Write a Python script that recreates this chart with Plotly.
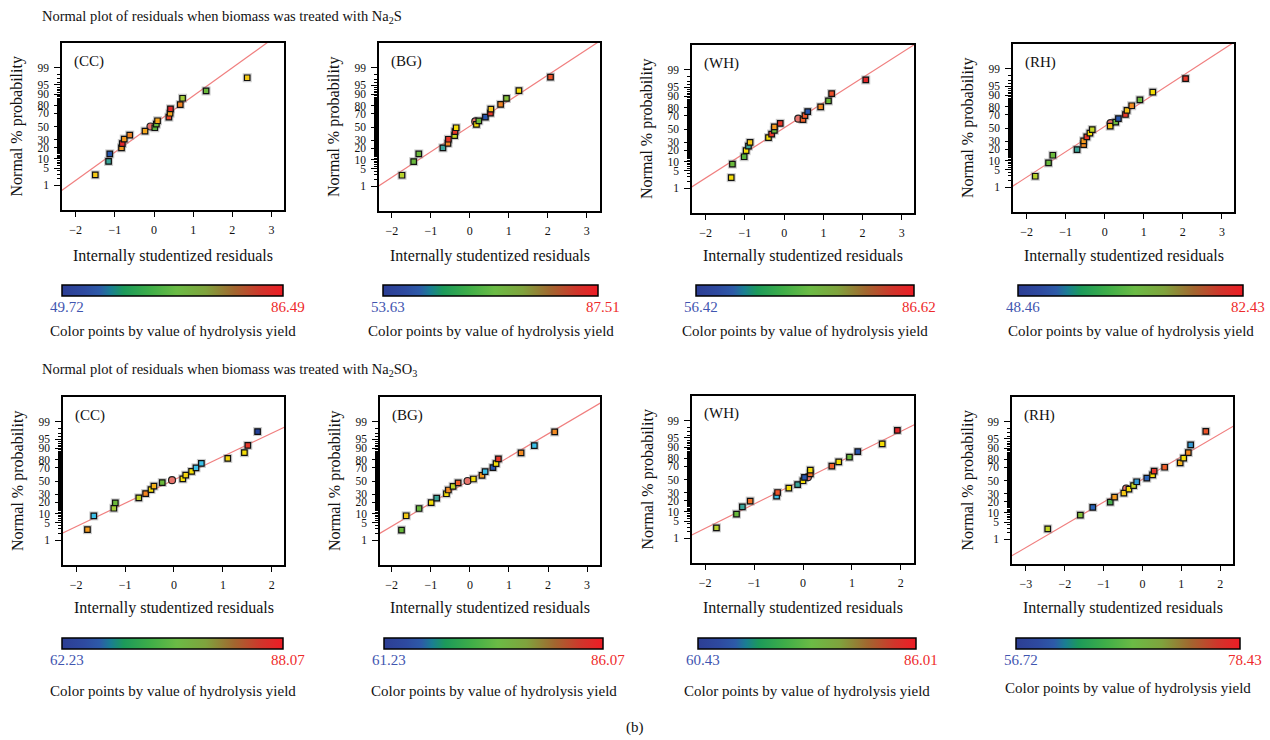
import plotly.graph_objects as go
from statistics import NormalDist

W, H = 1270, 740
FONT = "Liberation Serif"

# ---------------- data ----------------
prob_ticks = [1, 5, 10, 20, 30, 50, 70, 80, 90, 95, 99]
prob_minor = [p for p in range(1, 100) if p not in prob_ticks]
panel_names = ["(CC)", "(BG)", "(WH)", "(RH)", "(CC)", "(BG)", "(WH)", "(RH)"]
row_titles = ["Normal plot of residuals when biomass was treated with Na<sub>2</sub>S",
              "Normal plot of residuals when biomass was treated with Na<sub>2</sub>SO<sub>3</sub>"]
x_title = "Internally studentized residuals"
y_title = "Normal % probability"
cb_title = "Color points by value of hydrolysis yield"

# Na2S row
r1_cc_resid = [-1.50, -1.16, -1.13, -0.83, -0.81, -0.76, -0.62, -0.23, -0.09, 0.02, 0.06, 0.09, 0.38, 0.41, 0.42, 0.67, 0.73, 1.33, 2.38]
r1_cc_prob = [2.8, 8.4, 14.0, 20.0, 25.0, 31.0, 36.7, 42.8, 50.0, 48.0, 53.7, 59.0, 64.4, 70.0, 75.7, 80.7, 86.8, 92.0, 97.3]
r1_cc_yield = [76.9, 60.8, 51.6, 79.9, 86.5, 79.9, 81.0, 79.1, 84.6, 65.2, 66.3, 79.1, 84.6, 79.1, 86.5, 81.0, 69.9, 66.3, 76.9]

r1_bg_resid = [-1.74, -1.44, -1.31, -0.69, -0.56, -0.55, -0.39, -0.38, -0.35, 0.17, 0.14, 0.23, 0.40, 0.53, 0.54, 0.79, 0.94, 1.26, 2.07]
r1_bg_prob = [2.9, 8.7, 14.5, 20.6, 26.1, 31.5, 36.8, 42.9, 48.8, 54.0, 58.6, 59.6, 65.0, 70.8, 75.9, 81.3, 86.9, 92.3, 97.5]
r1_bg_yield = [73.3, 68.9, 68.9, 63.8, 82.4, 86.5, 74.0, 86.5, 77.4, 77.4, 85.0, 68.9, 55.3, 86.5, 79.0, 82.4, 70.6, 77.4, 84.8]

r1_wh_resid = [-1.35, -1.32, -1.02, -0.97, -0.91, -0.87, -0.40, -0.32, -0.25, -0.25, -0.10, 0.36, 0.48, 0.53, 0.60, 0.93, 1.13, 1.21, 2.08]
r1_wh_prob = [2.8, 8.4, 13.8, 19.7, 25.1, 29.9, 36.7, 42.1, 48.0, 53.2, 58.8, 65.8, 64.4, 70.0, 75.3, 80.7, 86.5, 91.8, 97.3]
r1_wh_yield = [77.6, 70.0, 69.1, 77.6, 65.5, 78.8, 77.6, 85.7, 70.0, 81.2, 85.7, 84.0, 83.6, 84.2, 57.9, 81.8, 70.0, 84.5, 86.6]

r1_rh_resid = [-1.78, -1.44, -1.33, -0.71, -0.54, -0.54, -0.46, -0.38, -0.32, 0.14, 0.15, 0.28, 0.35, 0.53, 0.57, 0.69, 0.90, 1.23, 2.07]
r1_rh_prob = [2.9, 8.5, 14.2, 19.8, 25.8, 30.6, 36.3, 42.0, 47.6, 52.9, 57.6, 59.1, 64.5, 70.2, 75.5, 80.9, 86.6, 92.1, 97.4]
r1_rh_yield = [68.2, 63.8, 63.8, 58.7, 77.0, 76.3, 81.4, 72.2, 68.8, 73.6, 80.0, 63.8, 50.2, 81.4, 74.3, 77.0, 63.8, 72.2, 81.4]

# Na2SO3 row
r2_cc_resid = [-1.77, -1.64, -1.23, -1.20, -0.72, -0.58, -0.47, -0.41, -0.24, -0.04, 0.18, 0.24, 0.36, 0.45, 0.56, 1.10, 1.44, 1.51, 1.71]
r2_cc_prob = [2.8, 8.5, 14.2, 19.5, 25.4, 31.1, 36.8, 42.0, 47.6, 51.3, 53.4, 59.1, 64.6, 69.8, 75.5, 81.2, 86.7, 91.9, 97.4]
r2_cc_yield = [83.4, 67.4, 76.4, 73.9, 77.7, 84.2, 80.3, 82.4, 73.9, 85.0, 80.3, 80.8, 80.3, 67.4, 67.4, 80.8, 80.3, 87.3, 62.2]

r2_bg_resid = [-1.75, -1.63, -1.30, -0.99, -0.85, -0.60, -0.55, -0.43, -0.30, -0.06, 0.09, 0.31, 0.39, 0.59, 0.67, 0.73, 1.31, 1.65, 2.17]
r2_bg_prob = [2.7, 8.6, 14.0, 19.7, 25.1, 30.8, 36.2, 41.7, 47.2, 50.0, 53.1, 58.8, 64.4, 70.1, 75.3, 80.7, 86.5, 91.8, 97.3]
r2_bg_yield = [72.4, 79.6, 72.4, 78.6, 68.7, 78.6, 82.1, 76.1, 83.6, 80.0, 78.6, 81.6, 66.2, 62.5, 78.6, 85.3, 82.1, 66.2, 82.1]

r2_wh_resid = [-1.77, -1.36, -1.24, -1.08, -0.54, -0.52, -0.29, -0.11, 0.00, 0.10, 0.03, 0.15, 0.15, 0.59, 0.73, 0.95, 1.12, 1.62, 1.93]
r2_wh_prob = [2.8, 8.6, 14.0, 19.7, 25.5, 30.4, 36.7, 42.1, 48.0, 53.6, 53.2, 58.8, 64.4, 70.1, 75.7, 81.1, 86.5, 92.0, 97.4]
r2_wh_yield = [75.3, 71.9, 68.1, 82.9, 65.6, 84.0, 78.3, 68.1, 78.3, 84.0, 61.7, 82.9, 78.3, 83.5, 78.3, 71.9, 61.7, 78.3, 86.0]

r2_rh_resid = [-2.44, -1.60, -1.28, -0.83, -0.72, -0.48, -0.42, -0.35, -0.23, -0.15, 0.11, 0.26, 0.30, 0.57, 0.97, 1.06, 1.18, 1.24, 1.63]
r2_rh_prob = [2.8, 8.6, 14.4, 19.7, 25.6, 30.9, 37.6, 36.7, 42.1, 48.0, 53.6, 58.8, 64.4, 70.0, 75.7, 81.1, 86.5, 92.0, 97.4]
r2_rh_yield = [69.8, 67.6, 58.5, 65.0, 74.5, 72.8, 75.0, 71.9, 69.8, 60.0, 58.5, 71.9, 77.8, 76.3, 73.7, 71.9, 75.0, 60.0, 76.7]

# index of the circled (highlighted) run in each panel
circle_idx = [8, 10, 11, 10, 9, 9, 9, 6]

# colour-scale limits of hydrolysis yield
r1_min = [49.72, 53.63, 56.42, 48.46]
r1_max = [86.49, 87.51, 86.62, 82.43]
r2_min = [62.23, 61.23, 60.43, 56.72]
r2_max = [88.07, 86.07, 86.01, 78.43]

# normal reference line (probit = slope * residual + intercept)
line_slope = [1.113, 1.004, 0.985, 0.998, 0.918, 0.907, 0.958, 0.898]
line_intercept = [0.096, 0.030, 0.045, 0.065, 0.044, 0.036, -0.014, 0.046]

# ---------------- layout geometry (pixels) ----------------
boxes = [(62, 284, 43, 210), (379, 600, 43, 211), (692, 914, 45, 213), (1013, 1234, 44, 212),
         (63, 284, 397, 565), (380, 600, 397, 565), (692, 914, 396, 563), (1012, 1233, 397, 564)]
xranges = [[-2.35, 3.32], [-2.33, 3.34], [-2.35, 3.31], [-2.35, 3.31],
           [-2.27, 2.25], [-2.30, 3.33], [-2.27, 2.27], [-3.36, 2.33]]
cbars = [(62, 283, 285, 296), (383, 598, 285, 296), (696, 914, 285, 296), (1018, 1243, 285, 296),
         (62, 283, 638, 649), (384, 603, 638, 649), (698, 916, 638, 649), (1016, 1240, 638, 649)]
xtitle_y = [256, 608]
cblabel_y = [307, 660]
cbtitle_y = [331, 331, 331, 331, 691, 691, 691, 688]
rowtitle_y = [17, 370]

POINT_SCALE = [[0.0, '#22409a'], [0.08, '#2a62b8'], [0.2, '#3cc0e8'], [0.3, '#3aa59a'],
               [0.4, '#4caf3c'], [0.55, '#a4cc3a'], [0.68, '#f3e600'], [0.75, '#f5c518'],
               [0.82, '#f59a1e'], [0.9, '#f0602a'], [1.0, '#e3262a']]
BAR_SCALE = [[0.0, '#2c3e94'], [0.1, '#2e4aa0'], [0.17, '#2d5aa8'], [0.22, '#1a7e93'],
             [0.28, '#1c9a5a'], [0.4, '#3fae48'], [0.52, '#6bbb45'], [0.65, '#7fa33d'],
             [0.78, '#a2662f'], [0.9, '#d0352b'], [1.0, '#ee1c25']]

nd = NormalDist()


def zq(p):
    return nd.inv_cdf(p / 100.0)


residuals = [r1_cc_resid, r1_bg_resid, r1_wh_resid, r1_rh_resid,
             r2_cc_resid, r2_bg_resid, r2_wh_resid, r2_rh_resid]
probs = [r1_cc_prob, r1_bg_prob, r1_wh_prob, r1_rh_prob,
         r2_cc_prob, r2_bg_prob, r2_wh_prob, r2_rh_prob]
yields = [r1_cc_yield, r1_bg_yield, r1_wh_yield, r1_rh_yield,
          r2_cc_yield, r2_bg_yield, r2_wh_yield, r2_rh_yield]
ymins = r1_min + r2_min
ymaxs = r1_max + r2_max

fig = go.Figure()
annotations = []
major_z = [zq(p) for p in prob_ticks]
minor_z = [zq(p) for p in prob_minor]
YR = [-3.3, 3.3]

for i in range(8):
    n = i + 1
    xr = 'x' if n == 1 else f'x{n}'
    yr = 'y' if n == 1 else f'y{n}'
    yr_minor = f'y{n + 8}'
    l, r, t, b = boxes[i]
    x0, x1 = xranges[i]
    zs = [zq(p) for p in probs[i]]
    res = residuals[i]
    c = circle_idx[i]
    sq = [j for j in range(len(res)) if j != c]

    # colour bar (invisible carrier trace, on the minor-tick overlay axis)
    bl, br, bt, bb = cbars[i]
    fig.add_trace(go.Scatter(x=res, y=zs, mode='markers',
                             marker=dict(size=1, opacity=0, color=yields[i], colorscale=BAR_SCALE,
                                         cmin=ymins[i], cmax=ymaxs[i], showscale=True,
                                         colorbar=dict(orientation='h', lenmode='pixels', len=br - bl,
                                                       thicknessmode='pixels', thickness=bb - bt,
                                                       x=bl / W, xanchor='left', y=1 - bt / H,
                                                       yanchor='top', xpad=0, ypad=0,
                                                       outlinecolor='black', outlinewidth=1.5,
                                                       showticklabels=False, ticks='')),
                             xaxis=xr, yaxis=yr_minor, hoverinfo='skip', showlegend=False))

    lx = [x0 - 1, x1 + 1]
    ly = [line_slope[i] * v + line_intercept[i] for v in lx]
    fig.add_trace(go.Scatter(x=lx, y=ly, mode='lines', line=dict(color='#f07f7f', width=1.2),
                             xaxis=xr, yaxis=yr, hoverinfo='skip', showlegend=False))
    # halo
    fig.add_trace(go.Scatter(x=[res[j] for j in sq], y=[zs[j] for j in sq], mode='markers',
                             marker=dict(symbol='square', size=9, color='rgba(140,140,140,0.45)'),
                             xaxis=xr, yaxis=yr, hoverinfo='skip', showlegend=False))
    # highlighted run
    fig.add_trace(go.Scatter(x=[res[c]], y=[zs[c]], mode='markers',
                             marker=dict(symbol='circle', size=7, color='#e8746c',
                                         line=dict(color='#222', width=1.2)),
                             xaxis=xr, yaxis=yr, showlegend=False))
    # runs coloured by yield
    fig.add_trace(go.Scatter(x=[res[j] for j in sq], y=[zs[j] for j in sq], mode='markers',
                             marker=dict(symbol='square', size=5.5,
                                         color=[yields[i][j] for j in sq],
                                         colorscale=POINT_SCALE, cmin=ymins[i], cmax=ymaxs[i],
                                         line=dict(color='#111', width=1.2), showscale=False),
                             xaxis=xr, yaxis=yr, showlegend=False))

    axis_font = dict(family=FONT, size=11.5, color='#111')
    fig.layout['xaxis' if n == 1 else f'xaxis{n}'] = dict(
        domain=[l / W, r / W], range=xranges[i], anchor=yr, showline=True, mirror=True,
        linecolor='black', linewidth=1.5, ticks='outside', ticklen=5, tickwidth=1,
        tickcolor='black', dtick=1, tick0=0, showgrid=False, zeroline=False,
        tickfont=dict(family=FONT, size=12, color='#111'), ticklabelstandoff=3, fixedrange=True)
    fig.layout['yaxis' if n == 1 else f'yaxis{n}'] = dict(
        domain=[1 - b / H, 1 - t / H], range=YR, anchor=xr, showline=True, mirror=True,
        linecolor='black', linewidth=1.5, tickmode='array', tickvals=major_z,
        ticktext=[str(p) for p in prob_ticks], ticks='outside', ticklen=6, tickwidth=1,
        tickcolor='black', showgrid=False, zeroline=False, tickfont=axis_font,
        ticklabelstandoff=3, fixedrange=True)
    fig.layout[f'yaxis{n + 8}'] = dict(
        overlaying=yr, anchor=xr, side='left', range=YR, tickmode='array', tickvals=minor_z,
        ticks='outside', ticklen=4, tickwidth=1, tickcolor='black', showticklabels=False,
        showline=False, showgrid=False, zeroline=False, fixedrange=True)

    row = 0 if i < 4 else 1
    # panel label
    annotations.append(dict(text=panel_names[i], x=(l + 10) / W, y=1 - (t + 18) / H,
                            xref='paper', yref='paper', xanchor='left', yanchor='middle',
                            showarrow=False, font=dict(family=FONT, size=15, color='#111')))
    # axis titles
    annotations.append(dict(text=x_title, x=(l + r) / 2 / W, y=1 - xtitle_y[row] / H,
                            xref='paper', yref='paper', xanchor='center', yanchor='middle',
                            showarrow=False, font=dict(family=FONT, size=16, color='#111')))
    annotations.append(dict(text=y_title, x=(l - 45) / W, y=1 - (t + b) / 2 / H, textangle=-90,
                            xref='paper', yref='paper', xanchor='center', yanchor='middle',
                            showarrow=False, font=dict(family=FONT, size=16, color='#111')))
    # colour bar labels and title
    annotations.append(dict(text=f"{ymins[i]:.2f}", x=(bl + 5) / W, y=1 - cblabel_y[row] / H,
                            xref='paper', yref='paper', xanchor='center', yanchor='middle',
                            showarrow=False, font=dict(family=FONT, size=15, color='#3f55b0')))
    annotations.append(dict(text=f"{ymaxs[i]:.2f}", x=(br + 5) / W, y=1 - cblabel_y[row] / H,
                            xref='paper', yref='paper', xanchor='center', yanchor='middle',
                            showarrow=False, font=dict(family=FONT, size=15, color='#ee2a2a')))
    annotations.append(dict(text=cb_title, x=(bl + br) / 2 / W, y=1 - cbtitle_y[i] / H,
                            xref='paper', yref='paper', xanchor='center', yanchor='middle',
                            showarrow=False, font=dict(family=FONT, size=15, color='#111')))

for k in range(2):
    annotations.append(dict(text=row_titles[k], x=40 / W, y=1 - rowtitle_y[k] / H,
                            xref='paper', yref='paper', xanchor='left', yanchor='middle',
                            showarrow=False, font=dict(family=FONT, size=14.5, color='#111')))
annotations.append(dict(text="(b)", x=635 / W, y=1 - 727 / H, xref='paper', yref='paper',
                        xanchor='center', yanchor='middle', showarrow=False,
                        font=dict(family=FONT, size=15, color='#111')))

fig.update_layout(width=W, height=H, autosize=False, margin=dict(l=0, r=0, t=0, b=0),
                  paper_bgcolor='white', plot_bgcolor='white', showlegend=False,
                  annotations=annotations, font=dict(family=FONT, color='#111'))

fig.write_html("out.html", config={'displayModeBar': False},
               post_script="document.body.style.margin='0px';")
